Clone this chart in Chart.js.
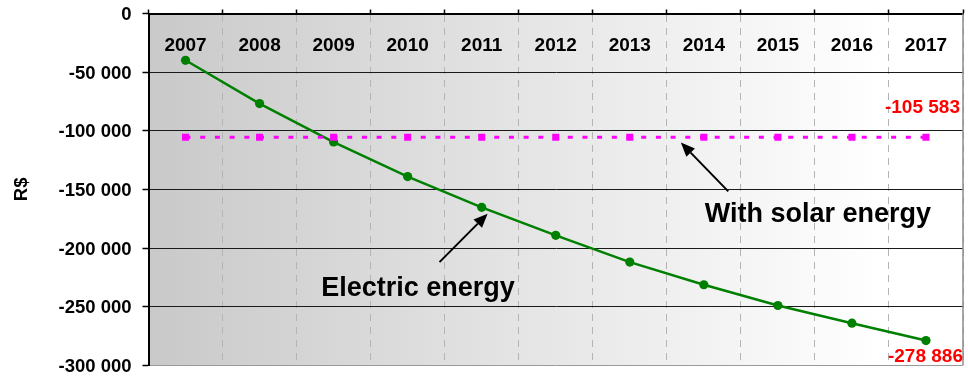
<!DOCTYPE html>
<html>
<head>
<meta charset="utf-8">
<script src="https://cdn.jsdelivr.net/npm/chart.js@4/dist/chart.umd.min.js"></script>
<style>
  html, body { margin: 0; padding: 0; background: #fff; }
  #wrap { width: 968px; height: 381px; }
</style>
</head>
<body>
<div id="wrap"><canvas id="chart" width="968" height="381"></canvas></div>
<script>
// Yearly cumulative cost (R$)
const years = ['2007', '2008', '2009', '2010', '2011', '2012', '2013', '2014', '2015', '2016', '2017'];
const electricEnergy = [-39900, -76800, -109600, -139100, -165300, -189200, -212000, -231300, -249000, -264100, -278886];
const withSolarEnergy = [-105583, -105583, -105583, -105583, -105583, -105583, -105583, -105583, -105583, -105583, -105583];
const yMin = -300000;
const yMax = 0;
const yStep = 50000;

const FONT = "'Liberation Sans', Arial, Helvetica, sans-serif";

function formatRs(v) {
  const digits = Math.abs(Math.round(v)).toString().replace(/\B(?=(\d{3})+(?!\d))/g, ' ');
  return (v < 0 ? '-' : '') + digits;
}

// Annotation arrows, positioned in data space (category index, value)
const callouts = [
  { text: 'Electric energy', tip: [4.08, -170700], tail: [3.43, -212000], label: [3.14, -241300] },
  { text: 'With solar energy', tip: [6.69, -110100], tail: [7.33, -151700], label: [8.54, -177900] }
];

// Horizontal grey-to-white fill behind the plot
const plotBackground = {
  id: 'plotBackground',
  beforeDraw(chart) {
    const { ctx, chartArea: a } = chart;
    const g = ctx.createLinearGradient(a.left, 0, a.right, 0);
    g.addColorStop(0, '#c9c9c9');
    g.addColorStop(0.9, '#ffffff');
    g.addColorStop(1, '#ffffff');
    ctx.save();
    ctx.fillStyle = g;
    ctx.fillRect(a.left, a.top, a.right - a.left, a.bottom - a.top);
    ctx.restore();
  }
};

function drawArrow(ctx, x1, y1, x2, y2) {
  const ang = Math.atan2(y2 - y1, x2 - x1);
  const headLen = 14, headHalf = 6;
  const bx = x2 - headLen * Math.cos(ang), by = y2 - headLen * Math.sin(ang);
  ctx.beginPath();
  ctx.moveTo(x1, y1);
  ctx.lineTo(bx, by);
  ctx.stroke();
  ctx.beginPath();
  ctx.moveTo(x2, y2);
  ctx.lineTo(bx + headHalf * Math.sin(ang), by - headHalf * Math.cos(ang));
  ctx.lineTo(bx - headHalf * Math.sin(ang), by + headHalf * Math.cos(ang));
  ctx.closePath();
  ctx.fill();
}

const overlays = {
  id: 'overlays',
  afterDatasetsDraw(chart) {
    const { ctx, chartArea: a, scales: { x, y } } = chart;
    ctx.save();

    // right edge of the plot frame
    ctx.strokeStyle = '#8c8c8c';
    ctx.lineWidth = 1.5;
    ctx.beginPath();
    ctx.moveTo(a.right, a.top);
    ctx.lineTo(a.right, a.bottom);
    ctx.stroke();

    // year labels inside the plot, under the top axis
    ctx.fillStyle = '#000';
    ctx.font = 'bold 19px ' + FONT;
    ctx.textAlign = 'center';
    ctx.textBaseline = 'alphabetic';
    years.forEach((yr, i) => {
      ctx.fillText(yr, x.getPixelForValue(i), a.top + 37.2);
    });

    // end-of-series value labels
    ctx.fillStyle = '#ff0000';
    ctx.textAlign = 'right';
    const last = years.length - 1;
    const solarPt = chart.getDatasetMeta(0).data[last];
    const elecPt = chart.getDatasetMeta(1).data[last];
    ctx.fillText(formatRs(withSolarEnergy[last]), solarPt.x + 34, solarPt.y - 24);
    ctx.fillText(formatRs(electricEnergy[last]), elecPt.x + 37, elecPt.y + 21);

    // callout arrows and captions
    ctx.strokeStyle = '#000';
    ctx.fillStyle = '#000';
    ctx.lineWidth = 2;
    ctx.font = 'bold 27px ' + FONT;
    ctx.textAlign = 'center';
    callouts.forEach(c => {
      drawArrow(ctx,
        x.getPixelForValue(c.tail[0]), y.getPixelForValue(c.tail[1]),
        x.getPixelForValue(c.tip[0]), y.getPixelForValue(c.tip[1]));
      ctx.fillText(c.text, x.getPixelForValue(c.label[0]), y.getPixelForValue(c.label[1]));
    });
    ctx.restore();
  }
};

new Chart(document.getElementById('chart'), {
  type: 'line',
  data: {
    labels: years,
    datasets: [
      {
        label: 'With solar energy',
        data: withSolarEnergy,
        borderColor: '#ff00ff',
        backgroundColor: '#ff00ff',
        borderWidth: 3,
        borderDash: [5, 9.7],
        pointStyle: 'rect',
        pointRadius: 5,
        pointBorderWidth: 0,
        pointBackgroundColor: '#ff00ff',
        tension: 0,
        order: 0
      },
      {
        label: 'Electric energy',
        data: electricEnergy,
        borderColor: '#008000',
        backgroundColor: '#008000',
        borderWidth: 2.5,
        pointRadius: 4.6,
        pointBorderWidth: 0,
        pointBackgroundColor: '#008000',
        tension: 0,
        order: 1
      }
    ]
  },
  options: {
    responsive: false,
    animation: false,
    devicePixelRatio: 1,
    layout: { padding: { top: 9.5, right: 5, bottom: 15.7, left: 0 } },
    plugins: { legend: { display: false }, tooltip: { enabled: false } },
    scales: {
      x: {
        type: 'category',
        position: 'top',
        offset: true,
        grid: {
          offset: true,
          color: ctx => (ctx.index === 0 || ctx.index === years.length) ? 'rgba(0,0,0,0)' : '#b4b4b4',
          lineWidth: 1,
          drawTicks: true,
          tickLength: 4,
          tickColor: '#000',
          tickWidth: 1.5,
          tickBorderDash: []
        },
        border: { display: true, color: '#000', width: 2, dash: [7, 6] },
        ticks: { display: false }
      },
      y: {
        min: yMin,
        max: yMax,
        ticks: {
          stepSize: yStep,
          color: '#000',
          padding: 11,
          labelOffset: 1.5,
          font: { family: FONT, size: 18.5, weight: 'bold' },
          callback: v => formatRs(v)
        },
        grid: {
          color: ctx => (ctx.tick && ctx.tick.value === yMin) ? '#9a9a9a' : '#1a1a1a',
          lineWidth: 1,
          tickLength: 6,
          tickColor: '#000',
          tickWidth: 1.5
        },
        border: { display: true, color: '#000', width: 2 },
        title: {
          display: true,
          text: 'R$',
          color: '#000',
          font: { family: FONT, size: 18.5, weight: 'bold' },
          padding: { top: 10.5, bottom: 0 }
        },
        afterFit(scale) {
          scale.width = 148.5;
          // labels may overhang the plot edges; the outer padding already leaves room
          scale.paddingTop = 0;
          scale.paddingBottom = 0;
        }
      }
    }
  },
  plugins: [plotBackground, overlays]
});
</script>
</body>
</html>
